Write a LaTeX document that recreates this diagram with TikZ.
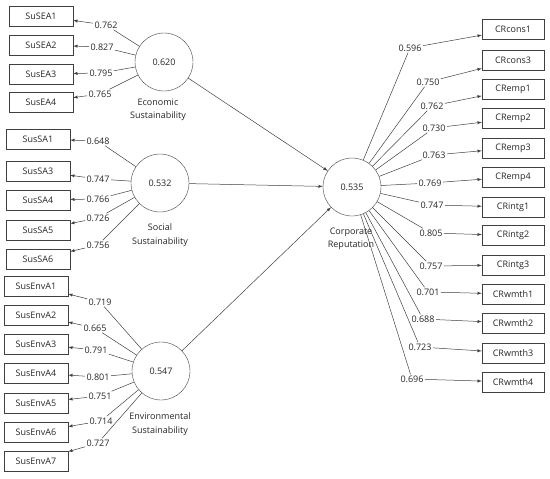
\documentclass[tikz,border=0pt]{standalone}
\usepackage{fontspec}
\setmainfont{Open Sans}
\usetikzlibrary{arrows}

\begin{document}
\begin{tikzpicture}[x=1pt,y=-1pt,
  every node/.style={font=\fontsize{9}{13.5}\selectfont, text=black!85},
  ind/.style={draw=black!75, minimum width=64pt, minimum height=20pt, inner sep=0pt},
  indr/.style={ind, minimum width=62pt},
  lv/.style={draw=black!75, circle, minimum size=58pt, inner sep=0pt},
  lvname/.style={align=center, inner sep=0pt},
  ld/.style={inner sep=1.2pt},
  conn/.style={draw=black!75, line width=0.5pt, -latex}]
  \useasboundingbox (0,0) rectangle (550,479);

  % latent variables
  \node[lv] (econ) at (164,62) {0.620};
  \node[lvname] (econname) at (158,110) {Economic\\Sustainability};
  \node[lv] (soc) at (160,183) {0.532};
  \node[lvname] (socname) at (160,235) {Social\\Sustainability};
  \node[lv] (env) at (161,371) {0.547};
  \node[lvname] (envname) at (160,424) {Environmental\\Sustainability};
  \node[lv] (corp) at (352,187) {0.535};
  \node[lvname] (corpname) at (351,239) {Corporate\\Reputation};

  % structural paths
  \draw[conn] (econ) -- (corp);
  \draw[conn] (soc) -- (corp);
  \draw[conn] (env) -- (corp);

  % economic indicators
  \node[ind] (sea1) at (41,16) {SuSEA1};
  \node[ind] (sea2) at (41,45) {SuSEA2};
  \node[ind] (sea3) at (41,74) {SusEA3};
  \node[ind] (sea4) at (41,102) {SusEA4};
  \node[ld] (lsea1) at (106,25) {0.762};
  \node[ld] (lsea2) at (102,47) {0.827};
  \node[ld] (lsea3) at (101,73) {0.795};
  \node[ld] (lsea4) at (100,94) {0.765};
  \draw[conn] (econ) -- (lsea1) -- (sea1);
  \draw[conn] (econ) -- (lsea2) -- (sea2);
  \draw[conn] (econ) -- (lsea3) -- (sea3);
  \draw[conn] (econ) -- (lsea4) -- (sea4);

  % social indicators
  \node[ind] (ssa1) at (38,139) {SusSA1};
  \node[ind] (ssa3) at (38,171) {SusSA3};
  \node[ind] (ssa4) at (38,200) {SusSA4};
  \node[ind] (ssa5) at (38,230) {SusSA5};
  \node[ind] (ssa6) at (38,259) {SusSA6};
  \node[ld] (lssa1) at (98,141) {0.648};
  \node[ld] (lssa3) at (98,179) {0.747};
  \node[ld] (lssa4) at (98,199) {0.766};
  \node[ld] (lssa5) at (98,218) {0.726};
  \node[ld] (lssa6) at (98,245) {0.756};
  \draw[conn] (soc) -- (lssa1) -- (ssa1);
  \draw[conn] (soc) -- (lssa3) -- (ssa3);
  \draw[conn] (soc) -- (lssa4) -- (ssa4);
  \draw[conn] (soc) -- (lssa5) -- (ssa5);
  \draw[conn] (soc) -- (lssa6) -- (ssa6);

  % environmental indicators
  \node[ind] (senv1) at (36,286) {SusEnvA1};
  \node[ind] (senv2) at (36,315) {SusEnvA2};
  \node[ind] (senv3) at (36,344) {SusEnvA3};
  \node[ind] (senv4) at (36,373) {SusEnvA4};
  \node[ind] (senv5) at (36,403) {SusEnvA5};
  \node[ind] (senv6) at (36,432) {SusEnvA6};
  \node[ind] (senv7) at (36,461) {SusEnvA7};
  \node[ld] (lsenv1) at (100,302) {0.719};
  \node[ld] (lsenv2) at (95,328) {0.665};
  \node[ld] (lsenv3) at (96,350) {0.791};
  \node[ld] (lsenv4) at (98,377) {0.801};
  \node[ld] (lsenv5) at (100,396) {0.751};
  \node[ld] (lsenv6) at (101,421) {0.714};
  \node[ld] (lsenv7) at (98,443) {0.727};
  \draw[conn] (env) -- (lsenv1) -- (senv1);
  \draw[conn] (env) -- (lsenv2) -- (senv2);
  \draw[conn] (env) -- (lsenv3) -- (senv3);
  \draw[conn] (env) -- (lsenv4) -- (senv4);
  \draw[conn] (env) -- (lsenv5) -- (senv5);
  \draw[conn] (env) -- (lsenv6) -- (senv6);
  \draw[conn] (env) -- (lsenv7) -- (senv7);

  % reputation indicators
  \node[indr] (cons1) at (513,29.5) {CRcons1};
  \node[indr] (cons3) at (513,60.5) {CRcons3};
  \node[indr] (emp1) at (513,89.5) {CRemp1};
  \node[indr] (emp2) at (513,118.5) {CRemp2};
  \node[indr] (emp3) at (513,148) {CRemp3};
  \node[indr] (emp4) at (513,177) {CRemp4};
  \node[indr] (intg1) at (513,207) {CRintg1};
  \node[indr] (intg2) at (513,235.5) {CRintg2};
  \node[indr] (intg3) at (513,265) {CRintg3};
  \node[indr] (wmth1) at (513,294) {CRwmth1};
  \node[indr] (wmth2) at (513,323) {CRwmth2};
  \node[indr] (wmth3) at (513,353) {CRwmth3};
  \node[indr] (wmth4) at (513,382) {CRwmth4};
  \node[ld] (lcons1) at (410,48) {0.596};
  \node[ld] (lcons3) at (428,82) {0.750};
  \node[ld] (lemp1) at (432,106) {0.762};
  \node[ld] (lemp2) at (434,128) {0.730};
  \node[ld] (lemp3) at (434,155) {0.763};
  \node[ld] (lemp4) at (430,183) {0.769};
  \node[ld] (lintg1) at (432,205) {0.747};
  \node[ld] (lintg2) at (431,233) {0.805};
  \node[ld] (lintg3) at (431,266) {0.757};
  \node[ld] (lwmth1) at (428,292) {0.701};
  \node[ld] (lwmth2) at (423,319) {0.688};
  \node[ld] (lwmth3) at (420,347) {0.723};
  \node[ld] (lwmth4) at (412,379) {0.696};
  \draw[conn] (corp) -- (lcons1) -- (cons1);
  \draw[conn] (corp) -- (lcons3) -- (cons3);
  \draw[conn] (corp) -- (lemp1) -- (emp1);
  \draw[conn] (corp) -- (lemp2) -- (emp2);
  \draw[conn] (corp) -- (lemp3) -- (emp3);
  \draw[conn] (corp) -- (lemp4) -- (emp4);
  \draw[conn] (corp) -- (lintg1) -- (intg1);
  \draw[conn] (corp) -- (lintg2) -- (intg2);
  \draw[conn] (corp) -- (lintg3) -- (intg3);
  \draw[conn] (corp) -- (lwmth1) -- (wmth1);
  \draw[conn] (corp) -- (lwmth2) -- (wmth2);
  \draw[conn] (corp) -- (lwmth3) -- (wmth3);
  \draw[conn] (corp) -- (lwmth4) -- (wmth4);
\end{tikzpicture}
\end{document}
